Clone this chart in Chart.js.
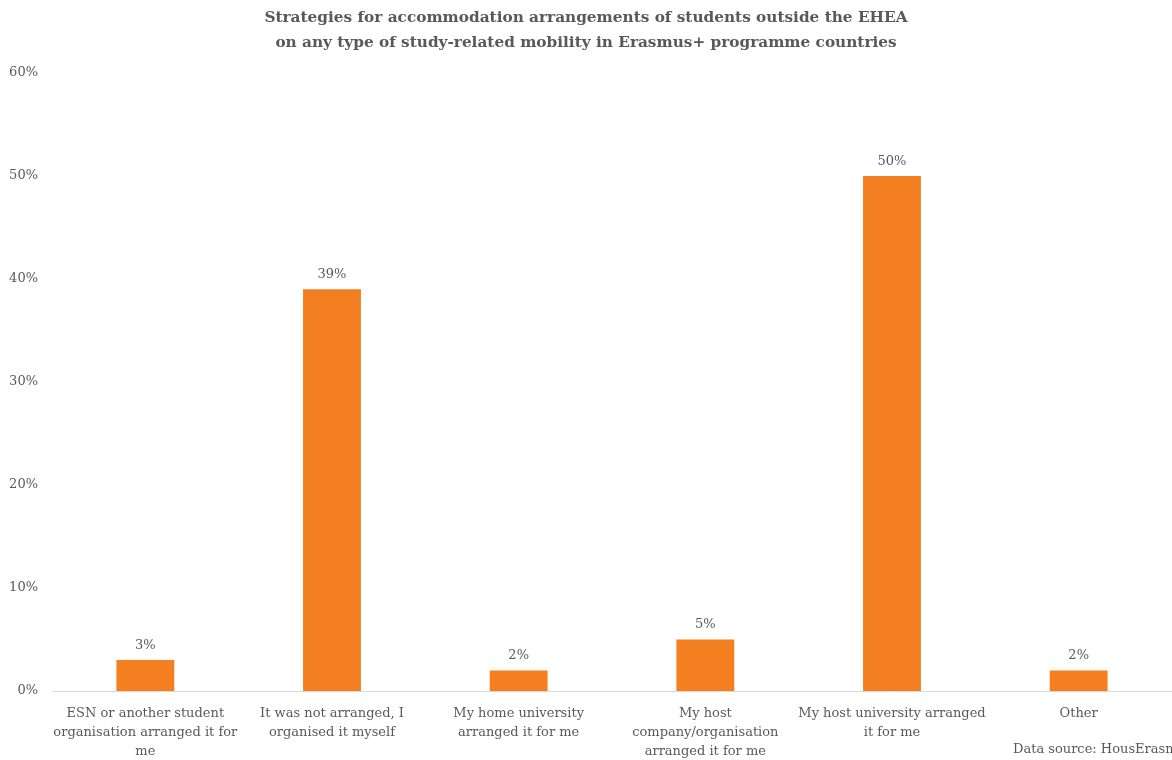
<!DOCTYPE html>
<html>
<head>
<meta charset="utf-8">
<script src="https://cdn.jsdelivr.net/npm/chart.js@4/dist/chart.umd.min.js"></script>
<style>
  html, body { margin: 0; padding: 0; background: #fff; }
  canvas { display: block; }
</style>
</head>
<body>
<canvas id="grafica" width="1172" height="760"></canvas>
<script>
const categorias = [
    ['ESN or another student', 'organisation arranged it for', 'me'],
    ['It was not arranged, I', 'organised it myself'],
    ['My home university', 'arranged it for me'],
    ['My host', 'company/organisation', 'arranged it for me'],
    ['My host university arranged', 'it for me'],
    ['Other']
];
const valores = [3, 39, 2, 5, 50, 2];
const titulo = [
    'Strategies for accommodation arrangements of students outside the EHEA',
    'on any type of study-related mobility in Erasmus+ programme countries'
];
const fuente = 'Data source: HousErasmus+';

const fuenteSerif = "'DejaVu Serif', 'Liberation Serif', serif";
const gris = '#595959';

// etiquetas de valor encima de las barras y nota de la fuente
const etiquetas = {
    id: 'etiquetas',
    afterDatasetsDraw(chart) {
        const ctx = chart.ctx;
        const meta = chart.getDatasetMeta(0);
        ctx.save();
        ctx.font = '13px ' + fuenteSerif;
        ctx.fillStyle = gris;
        ctx.textAlign = 'center';
        ctx.textBaseline = 'bottom';
        meta.data.forEach((bar, i) => {
            ctx.fillText(valores[i] + '%', bar.x, bar.y - 8);
        });
        ctx.textAlign = 'left';
        ctx.textBaseline = 'middle';
        ctx.fillText(fuente, 1013, 750);
        ctx.restore();
    }
};

const chart = new Chart(document.getElementById('grafica').getContext('2d'), {
    type: 'bar',
    data: {
        labels: categorias,
        datasets: [{
            data: valores,
            backgroundColor: '#F47F20',
            categoryPercentage: 1,
            barPercentage: 0.31
        }]
    },
    options: {
        responsive: false,
        animation: false,
        layout: { padding: { left: 0, right: 0, top: 0, bottom: 0 } },
        plugins: {
            legend: { display: false },
            tooltip: { enabled: false },
            title: {
                display: true,
                text: titulo,
                color: gris,
                font: { family: fuenteSerif, size: 15.3, weight: 'bold', lineHeight: 1.63 },
                padding: { top: 6, bottom: 17 }
            }
        },
        scales: {
            x: {
                grid: { display: false },
                border: { display: true, color: '#d9d9d9', width: 1 },
                ticks: {
                    color: gris,
                    font: { family: fuenteSerif, size: 13, lineHeight: 1.45 },
                    maxRotation: 0,
                    autoSkip: false,
                    padding: 5
                },
                afterFit(scale) { scale.height = 69; }
            },
            y: {
                min: 0,
                max: 60,
                grid: { display: false },
                border: { display: false },
                ticks: {
                    stepSize: 10,
                    color: gris,
                    font: { family: fuenteSerif, size: 13 },
                    padding: 6,
                    callback: v => v + '%'
                },
                afterFit(scale) { scale.width = 52; }
            }
        }
    },
    plugins: [etiquetas]
});
</script>
</body>
</html>
